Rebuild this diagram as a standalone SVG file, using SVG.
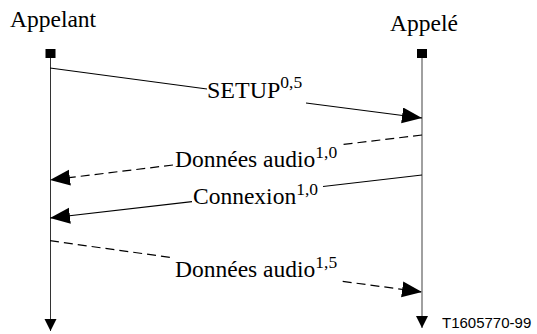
<svg xmlns="http://www.w3.org/2000/svg" width="537" height="334" viewBox="0 0 537 334">
<style>
.t{font-family:"Liberation Serif","Times New Roman",serif;font-size:23.5px;fill:#000}
.s{font-size:17.5px}
.msg{stroke:#000;stroke-width:1.2;fill:none}
.d{stroke-dasharray:9 5}
.ref{font-family:"Liberation Sans",Arial,sans-serif;font-size:15px;fill:#000}
</style>
<defs>
<marker id="ah" markerUnits="userSpaceOnUse" markerWidth="22" markerHeight="18" refX="20" refY="8" orient="auto">
<path d="M0,0 L20,8 L0,16 z" fill="#000"/>
</marker>
<marker id="lh" markerUnits="userSpaceOnUse" markerWidth="14" markerHeight="14" refX="12" refY="6" orient="auto">
<path d="M0,0 L12,6 L0,12 z" fill="#000"/>
</marker>
</defs>
<g id="appelant">
<text class="t" x="10" y="27">Appelant</text>
<rect x="45.5" y="49" width="10" height="9" fill="#000"/>
<line x1="50.5" y1="58" x2="50.5" y2="331" stroke="#333" stroke-width="1" marker-end="url(#lh)"/>
</g>
<g id="appele">
<text class="t" x="390" y="31">Appelé</text>
<rect x="417" y="49" width="10" height="9" fill="#000"/>
<line x1="422" y1="58" x2="422" y2="328" stroke="#808080" stroke-width="1.5" marker-end="url(#lh)"/>
</g>
<g id="connectors">
<g id="setup">
<polyline class="msg" points="50,68 207,89"/>
<polyline class="msg" points="306,103 422,118" marker-end="url(#ah)"/>
<text class="t" x="207" y="98" style="font-size:24px">SETUP<tspan class="s" dy="-10">0,5</tspan></text>
</g>
<g id="donnees1">
<polyline class="msg d" points="422,135 341,144.7"/>
<polyline class="msg d" points="173,165 50,180" marker-end="url(#ah)"/>
<text class="t" x="175" y="166.5">Données audio<tspan class="s" dy="-9">1,0</tspan></text>
</g>
<g id="connexion">
<polyline class="msg" points="422,175 323,186.5"/>
<polyline class="msg" points="192,201.6 50,218" marker-end="url(#ah)"/>
<text class="t" x="193" y="203.5">Connexion<tspan class="s" dy="-9">1,0</tspan></text>
</g>
<g id="donnees2">
<polyline class="msg d" points="50,240.7 173,257.8"/>
<polyline class="msg d" points="342.7,281.4 422,292" marker-end="url(#ah)"/>
<text class="t" x="175" y="277">Données audio<tspan class="s" dy="-9">1,5</tspan></text>
</g>
</g>
<text class="ref" x="442" y="327.5">T1605770-99</text>
</svg>
